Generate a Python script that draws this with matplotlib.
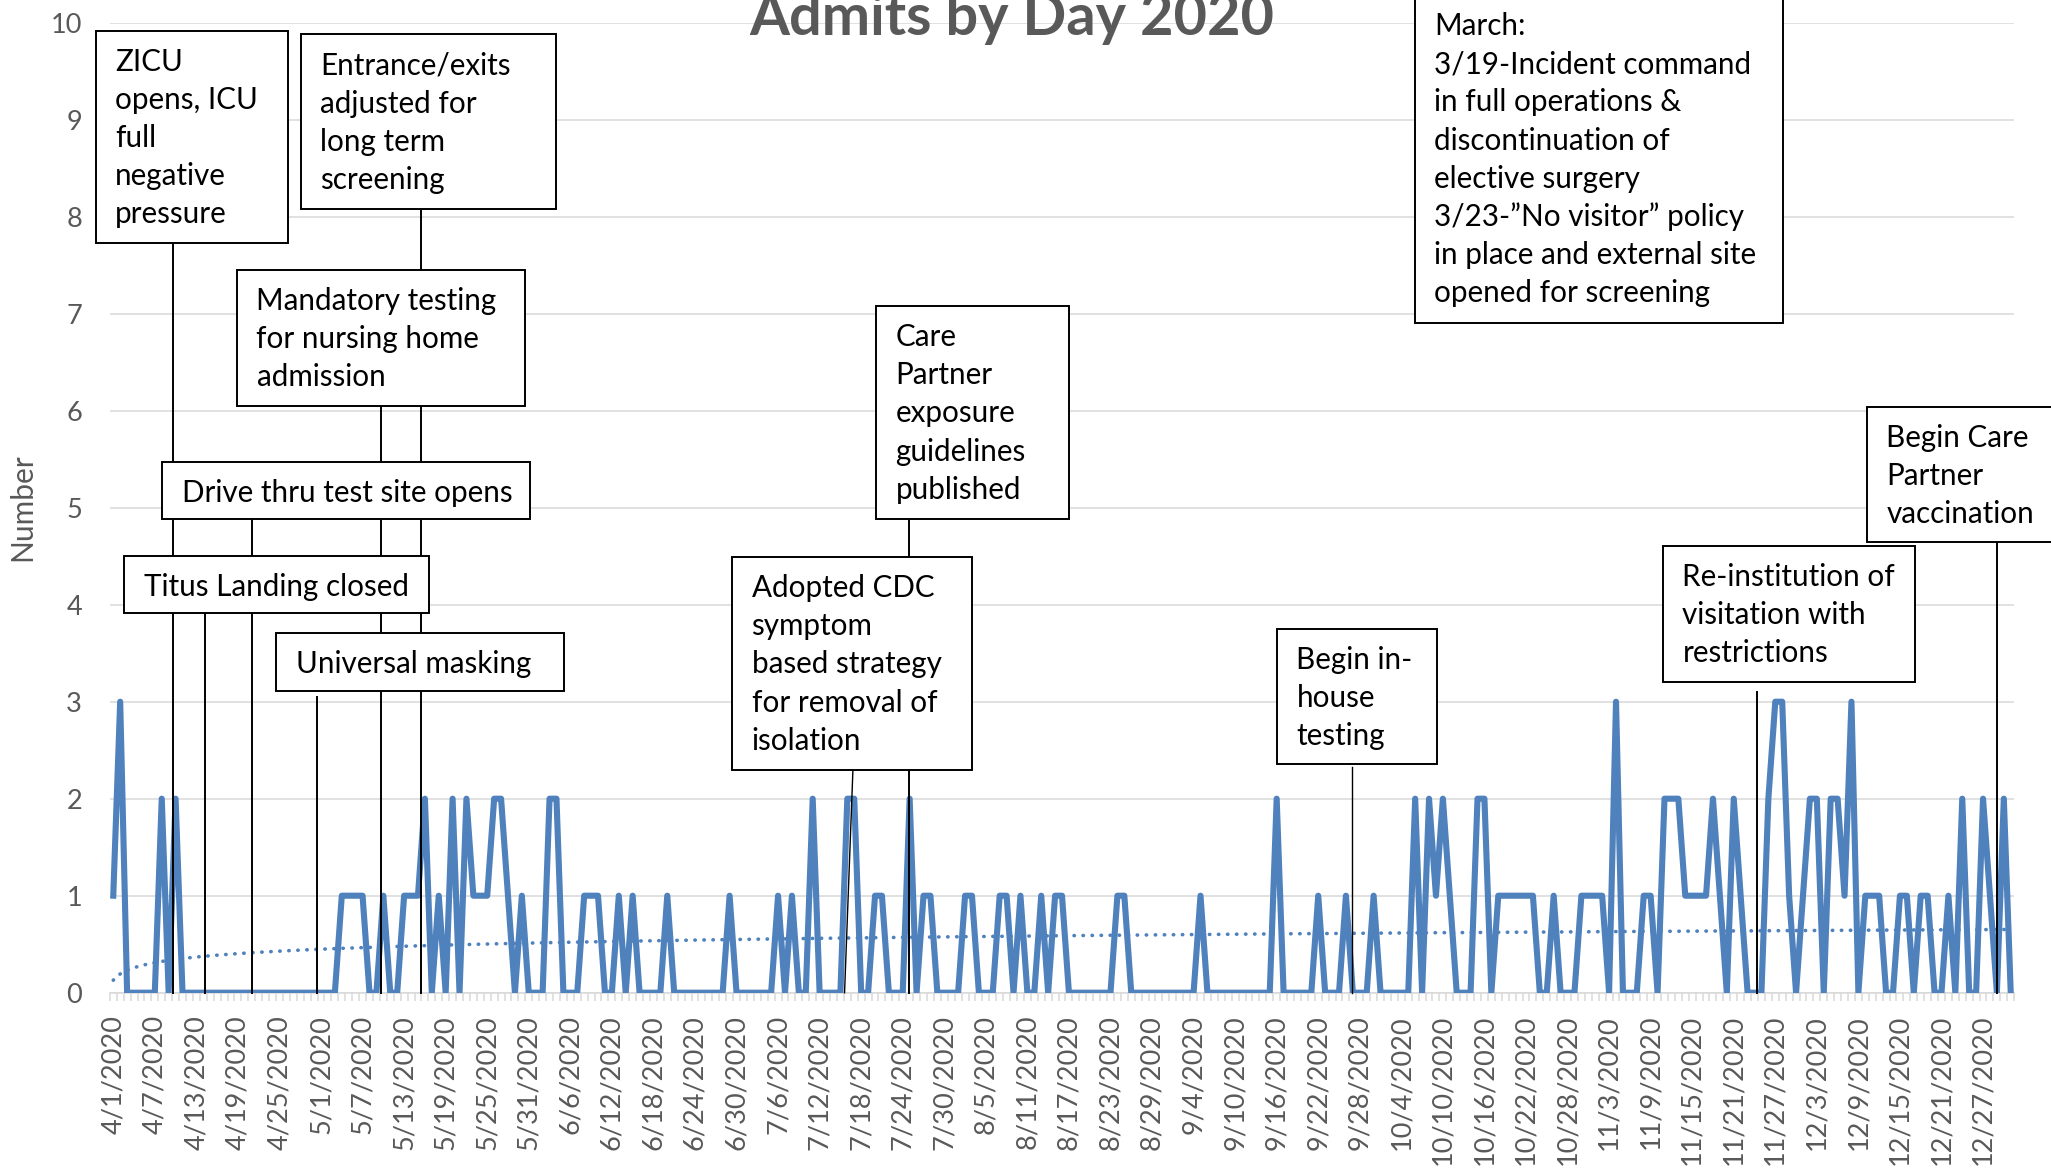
import numpy as np
import pandas as pd
import matplotlib
matplotlib.use("Agg")
import matplotlib.pyplot as plt
from matplotlib.patches import Rectangle

plt.rcParams['font.family'] = ['Lato', 'DejaVu Sans']

# daily admits 4/1/2020 - 12/31/2020, one list per month
apr = [1, 3, 0, 0, 0, 0, 0, 2, 0, 2, 0, 0, 0, 0, 0, 0, 0, 0, 0, 0,
       0, 0, 0, 0, 0, 0, 0, 0, 0, 0]
may = [0, 0, 0, 1, 1, 1, 1, 0, 0, 1, 0, 0, 1, 1, 1, 2, 0, 1, 0, 2,
       0, 2, 1, 1, 1, 2, 2, 1, 0, 1, 0]
jun = [0, 0, 2, 2, 0, 0, 0, 1, 1, 1, 0, 0, 1, 0, 1, 0, 0, 0, 0, 1,
       0, 0, 0, 0, 0, 0, 0, 0, 1, 0]
jul = [0, 0, 0, 0, 0, 1, 0, 1, 0, 0, 2, 0, 0, 0, 0, 2, 2, 0, 0, 1,
       1, 0, 0, 0, 2, 0, 1, 1, 0, 0, 0]
aug = [0, 1, 1, 0, 0, 0, 1, 1, 0, 1, 0, 0, 1, 0, 1, 1, 0, 0, 0, 0,
       0, 0, 0, 1, 1, 0, 0, 0, 0, 0, 0]
sep = [0, 0, 0, 0, 1, 0, 0, 0, 0, 0, 0, 0, 0, 0, 0, 2, 0, 0, 0, 0,
       0, 1, 0, 0, 0, 1, 0, 0, 0, 1]
oct_ = [0, 0, 0, 0, 0, 2, 0, 2, 1, 2, 1, 0, 0, 0, 2, 2, 0, 1, 1, 1,
        1, 1, 1, 0, 0, 1, 0, 0, 0, 1, 1]
nov = [1, 1, 0, 3, 0, 0, 0, 1, 1, 0, 2, 2, 2, 1, 1, 1, 1, 2, 1, 0,
       2, 1, 0, 0, 0, 2, 3, 3, 1, 0]
dec = [1, 2, 2, 0, 2, 2, 1, 3, 0, 1, 1, 1, 0, 0, 1, 1, 0, 1, 1, 0,
       0, 1, 0, 2, 0, 0, 2, 1, 0, 2, 0]
admits = apr + may + jun + jul + aug + sep + oct_ + nov + dec

dates = pd.date_range("2020-04-01", "2020-12-31", freq="D")
date_labels = [f"{d.month}/{d.day}/{d.year}" for d in dates]
label_step = 6

# event marker lines: (day index, top of line in axis units)
markers = [(8.6, 7.73), (13.2, 3.91), (20.1, 4.88), (29.4, 3.05),
           (38.7, 6.05), (44.4, 8.06), (114.9, 4.88), (272.0, 4.65),
           (237.4, 3.10)]
thin_markers = [((106.8, 105.6), (2.28, 0)), ((178.9, 178.9), (2.33, 0))]

# annotation boxes in image pixels: left, top, right, bottom, lines
boxes = [
    (95.5, 30.7, 287.8, 243.3, ["ZICU", "opens, ICU", "full", "negative", "pressure"]),
    (301, 34.3, 556, 209, ["Entrance/exits", "adjusted for", "long term", "screening"]),
    (237, 270, 524.5, 405.7, ["Mandatory testing", "for nursing home", "admission"]),
    (162, 462, 530, 519, ["Drive thru test site opens"]),
    (124, 556, 429, 613, ["Titus Landing closed"]),
    (276, 633, 564, 691, ["Universal masking"]),
    (876, 306, 1069, 519, ["Care", "Partner", "exposure", "guidelines", "published"]),
    (732, 557, 972, 770, ["Adopted CDC", "symptom", "based strategy", "for removal of", "isolation"]),
    (1277, 629, 1436.5, 764, ["Begin in-", "house", "testing"]),
    (1415, -5, 1782.7, 323, ["March:", "3/19-Incident command", "in full operations &",
                             "discontinuation of", "elective surgery",
                             "3/23-\u201dNo visitor\u201d policy", "in place and external site",
                             "opened for screening"]),
    (1663, 545.7, 1915, 681.7, ["Re-institution of", "visitation with", "restrictions"]),
    (1866.7, 406.7, 2060, 541.7, ["Begin Care", "Partner", "vaccination"]),
]

W, H = 2051, 1170
fig = plt.figure(figsize=(W / 100, H / 100), dpi=100)
ax = fig.add_axes([109.8 / W, 1 - 992.7 / H, (2014.2 - 109.8) / W, (992.7 - 22.7) / H])

x = np.arange(len(admits))
ax.plot(x, admits, color='#4F81BD', lw=4.4, solid_joinstyle='round', zorder=3)

# logarithmic trendline (Excel style, x = 1..n)
xi = np.arange(1, len(admits) + 1)
a, b = np.polyfit(np.log(xi), admits, 1)
ax.plot(x, a * np.log(xi) + b, color='#4F81BD', lw=2.6, linestyle=(0, (0.1, 2.4)),
        dash_capstyle='round', zorder=3)

for d, top in markers:
    ax.plot([d, d], [0, top], color='black', lw=1.4, zorder=4, clip_on=False)
for xs, ys in thin_markers:
    ax.plot(xs, ys, color='black', lw=1.0, zorder=4, clip_on=False)

ax.set_xlim(-0.5, len(admits) - 0.5)
ax.set_ylim(0, 10)
ax.set_yticks(range(0, 11))
ax.set_xticks(x[::label_step])
ax.set_xticklabels(date_labels[::label_step], rotation=90)
ax.set_xticks(np.arange(-0.5, len(admits), 1), minor=True)
ax.tick_params(axis='x', which='major', length=0, pad=16, labelsize=19.5, labelcolor='#595959')
ax.tick_params(axis='x', which='minor', length=5.8, width=1.1, color='#D9D9D9')
ax.tick_params(axis='y', length=0, pad=20, labelsize=19.5, labelcolor='#595959')
ax.yaxis.grid(True, color='#D9D9D9', lw=1.1)
ax.set_axisbelow(True)
for s in ['top', 'right', 'left']:
    ax.spines[s].set_visible(False)
ax.spines['bottom'].set_color('#D9D9D9')
ax.spines['bottom'].set_linewidth(1.1)

# annotation boxes
for left, top, right, bottom, lines in boxes:
    rect = Rectangle((left / W, 1 - bottom / H), (right - left) / W, (bottom - top) / H,
                     transform=fig.transFigure, facecolor='white', edgecolor='black',
                     lw=1.4, zorder=5)
    fig.add_artist(rect)
    for i, line in enumerate(lines):
        fig.text((left + 19.5) / W, 1 - (top + 40 + 38.2 * i) / H, line, ha='left',
                 va='baseline', fontsize=21.3, color='black', zorder=6)

fig.text(1012 / W, 1 - 35 / H, "Admits by Day 2020", ha='center', va='baseline',
         fontsize=41.5, fontweight='bold', color='#595959')
fig.text(22 / W, 1 - 507 / H, "Number", rotation=90, ha='center', va='center',
         fontsize=21.5, color='#595959')

fig.savefig('out.png', dpi=100)
